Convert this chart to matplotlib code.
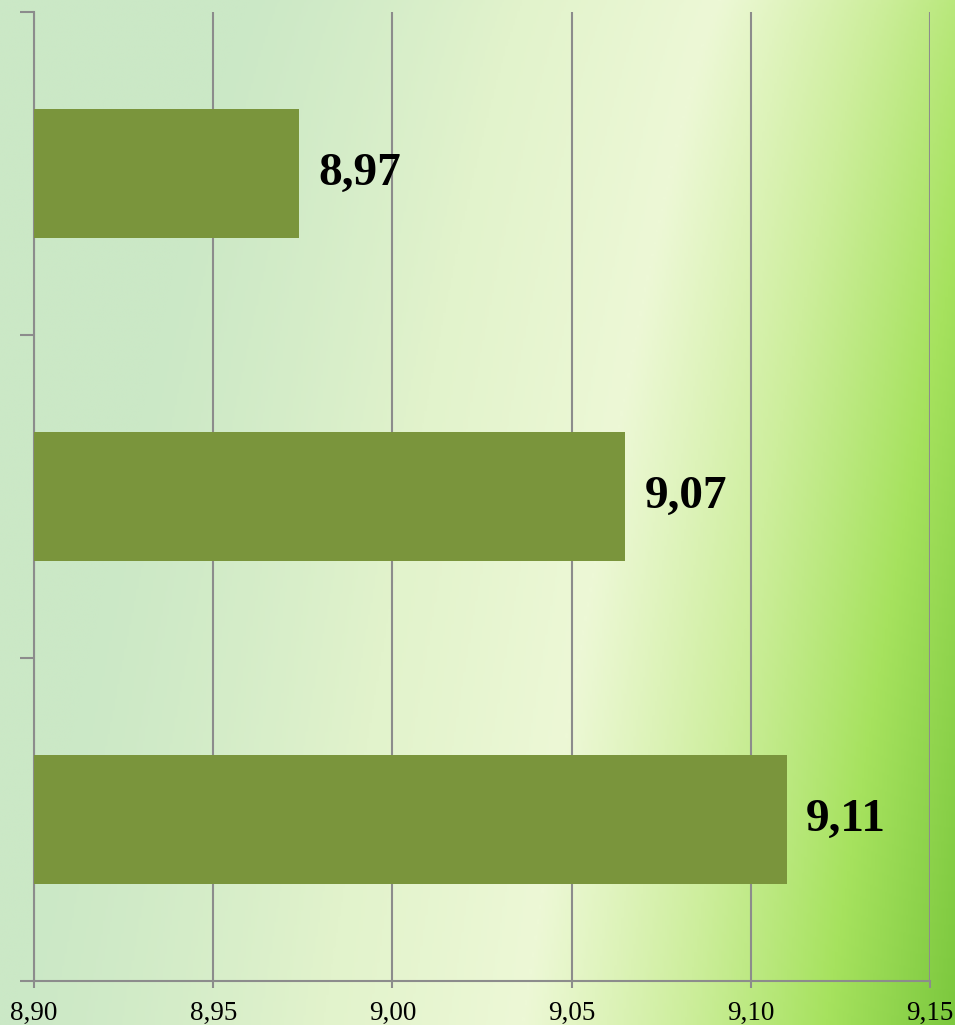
import numpy as np
import matplotlib.pyplot as plt
from matplotlib.colors import LinearSegmentedColormap

# bar values (top to bottom) and their printed labels
values = [8.974, 9.065, 9.11]
labels = ["8,97", "9,07", "9,11"]
xticks = [8.90, 8.95, 9.00, 9.05, 9.10, 9.15]
xtick_labels = ["8,90", "8,95", "9,00", "9,05", "9,10", "9,15"]

bar_color = "#7a953c"
grid_color = "#8c8c8c"

fig = plt.figure(figsize=(9.55, 10.25), dpi=100)

# soft green backdrop, roughly like the slide picture behind the chart
bg = fig.add_axes([0, 0, 1, 1])
bg.set_axis_off()
xx, yy = np.meshgrid(np.linspace(0, 1, 400), np.linspace(0, 1, 430))
field = np.clip(0.7 * xx ** 1.8 + 0.3 * xx * yy ** 0.8 - 0.08 * (1 - xx) * (1 - yy), 0, 1)
cmap = LinearSegmentedColormap.from_list(
    "bg", ["#cbe8c6", "#e2f3cc", "#edf8d6", "#cdee9c", "#a6e25e", "#7cc83e"])
bg.imshow(field, cmap=cmap, aspect="auto", extent=[0, 1, 0, 1], origin="upper",
          vmin=0, vmax=1)
bg.set_xlim(0, 1)
bg.set_ylim(0, 1)

ax = fig.add_axes([34 / 955, 1 - 981 / 1025, 896 / 955, 969 / 1025])
ax.patch.set_alpha(0)

pos = np.arange(len(values))[::-1]
ax.barh(pos, [v - xticks[0] for v in values], left=xticks[0], height=0.4,
        color=bar_color, zorder=3)

for p, v, lab in zip(pos, values, labels):
    ax.text(v + 0.0053, p, lab, va="center", ha="left", fontsize=34,
            fontweight="bold", family="Liberation Serif", color="black", zorder=4)

ax.set_xlim(xticks[0], xticks[-1])
ax.set_ylim(-0.5, 2.5)
ax.set_xticks(xticks)
ax.set_xticklabels(xtick_labels, family="Liberation Serif", fontsize=19.5)
ax.set_yticks([-0.5, 0.5, 1.5, 2.5])
ax.set_yticklabels([])
ax.grid(axis="x", color=grid_color, linewidth=1.5, zorder=1)
ax.tick_params(axis="x", length=5, width=1.5, color=grid_color, pad=9)
ax.tick_params(axis="y", length=10, width=1.5, color=grid_color)

for side in ["top", "right"]:
    ax.spines[side].set_visible(False)
for side in ["left", "bottom"]:
    ax.spines[side].set_color(grid_color)
    ax.spines[side].set_linewidth(1.5)

fig.savefig("out.png", dpi=100)
